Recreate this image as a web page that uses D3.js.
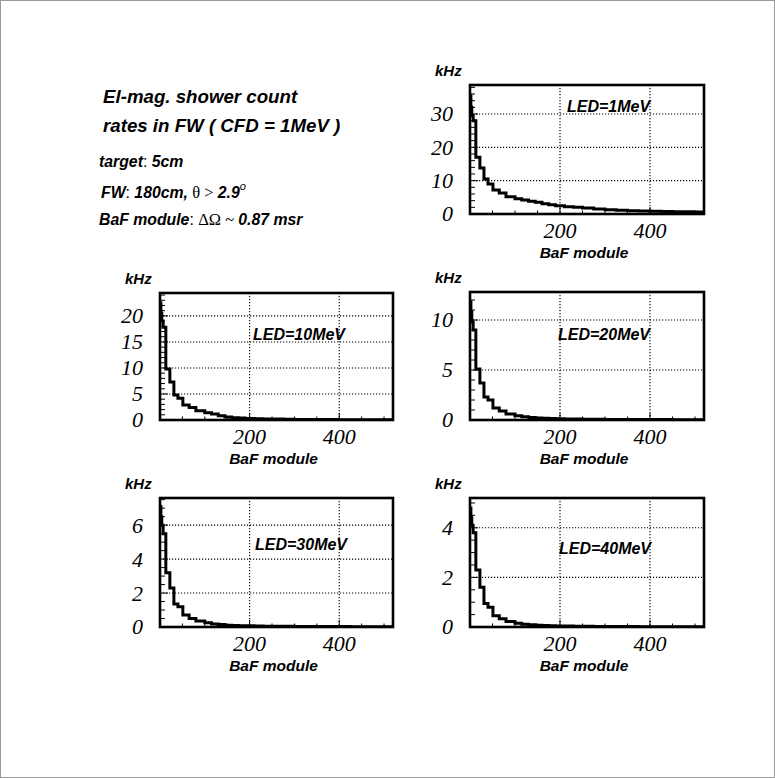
<!DOCTYPE html>
<html>
<head>
<meta charset="utf-8">
<script src="https://cdn.jsdelivr.net/npm/d3@7"></script>
<style>
  html, body { margin: 0; padding: 0; background: #fff; }
  svg { display: block; }
</style>
</head>
<body>
<svg id="chart" width="775" height="778"></svg>
<script>
// ---- data ----
const moduleEdges = [0,2,4,7,13,22,31,40,51,65,80,100,115,130,145,160,175,190,210,230,250,275,300,325,350,375,400,425,450,475,500,520];
const rates1MeV  = [35.5,32,29.5,28,17,13.8,10.5,9,7.2,6.3,5.2,4.6,4.2,3.8,3.5,3.1,2.8,2.5,2.2,2.0,1.8,1.5,1.3,1.15,1.0,0.9,0.8,0.75,0.7,0.65,0.6];
const rates10MeV = [22.5,20.5,19,17.8,9.8,7.3,4.8,4.2,2.9,2.4,1.8,1.4,1.15,0.8,0.6,0.45,0.38,0.3,0.25,0.2,0.17,0.14,0.12,0.1,0.09,0.08,0.07,0.06,0.06,0.05,0.05];
const rates20MeV = [11.8,10.8,9.8,9.0,5.1,3.7,2.3,2.0,1.2,0.9,0.6,0.42,0.32,0.25,0.2,0.17,0.14,0.12,0.1,0.09,0.08,0.07,0.06,0.05,0.05,0.04,0.04,0.04,0.03,0.03,0.03];
const rates30MeV = [7.1,6.5,6.0,5.5,3.2,2.3,1.35,1.2,0.7,0.5,0.35,0.25,0.18,0.14,0.11,0.09,0.08,0.07,0.06,0.05,0.045,0.04,0.035,0.03,0.03,0.025,0.025,0.02,0.02,0.02,0.02];
const rates40MeV = [4.8,4.4,4.1,3.8,2.3,1.6,0.95,0.8,0.45,0.33,0.22,0.15,0.11,0.09,0.07,0.06,0.05,0.045,0.04,0.035,0.03,0.025,0.02,0.02,0.02,0.015,0.015,0.015,0.01,0.01,0.01];
const ledLabels = ["LED=1MeV","LED=10MeV","LED=20MeV","LED=30MeV","LED=40MeV"];
const yMax = [38.7, 24.4, 12.8, 7.6, 5.2];
const yMajorTicks = [[0,10,20,30],[0,5,10,15,20],[0,5,10],[0,2,4,6],[0,2,4]];
const yMinorStep = [2, 1, 1, 0.5, 0.5];
const xMax = 520;
const xTickLabels = [200, 400];
const xTitle = "BaF module";
const yTitle = "kHz";

// ---- layout ----
const panels = [
  {x0:470, x1:704, y0:85,  y1:214, led:[567,112]},
  {x0:160, x1:393, y0:293, y1:420, led:[253,340]},
  {x0:470, x1:704, y0:292, y1:420, led:[558,340]},
  {x0:160, x1:393, y0:498, y1:627, led:[255,550]},
  {x0:470, x1:704, y0:498, y1:627, led:[559,554]}
];
const series = [rates1MeV, rates10MeV, rates20MeV, rates30MeV, rates40MeV];

const svg = d3.select("#chart");
svg.append("rect").attr("x",0.5).attr("y",0.5).attr("width",774).attr("height",777)
  .attr("fill","#fff").attr("stroke","#9a9a9a").attr("stroke-width",1);

const sans = "'Liberation Sans', Arial, Helvetica, sans-serif";
const serif = "'Liberation Serif', 'Times New Roman', serif";

panels.forEach((p, i) => {
  const x = d3.scaleLinear().domain([0, xMax]).range([p.x0, p.x1]);
  const y = d3.scaleLinear().domain([0, yMax[i]]).range([p.y1, p.y0]);
  const g = svg.append("g");
  const clipId = "clip" + i;
  svg.append("clipPath").attr("id", clipId).append("rect")
    .attr("x", p.x0).attr("y", p.y0).attr("width", p.x1 - p.x0).attr("height", p.y1 - p.y0);

  // grid
  g.selectAll(".gx").data(xTickLabels).join("line")
    .attr("x1", d => x(d)).attr("x2", d => x(d)).attr("y1", p.y0).attr("y2", p.y1)
    .attr("stroke","#000").attr("stroke-width",1.1).attr("stroke-dasharray","1.2,1.8");
  g.selectAll(".gy").data(yMajorTicks[i].filter(v => v > 0)).join("line")
    .attr("x1", p.x0).attr("x2", p.x1).attr("y1", d => y(d)).attr("y2", d => y(d))
    .attr("stroke","#000").attr("stroke-width",1.1).attr("stroke-dasharray","1.2,1.8");

  // minor ticks
  const yMinor = d3.range(0, yMax[i] + 1e-9, yMinorStep[i]);
  g.selectAll(".ty").data(yMinor).join("line")
    .attr("x1", p.x0).attr("x2", d => p.x0 + (yMajorTicks[i].includes(+d.toFixed(3)) ? 8 : 5))
    .attr("y1", d => y(d)).attr("y2", d => y(d))
    .attr("stroke","#000").attr("stroke-width",1);
  const xMinor = d3.range(0, xMax + 1e-9, 50);
  g.selectAll(".tx").data(xMinor).join("line")
    .attr("x1", d => x(d)).attr("x2", d => x(d))
    .attr("y1", p.y1).attr("y2", d => p.y1 - (d % 200 === 0 ? 7 : 3.5))
    .attr("stroke","#000").attr("stroke-width",1);

  // histogram
  const pts = series[i].map((v, k) => [moduleEdges[k], v]);
  pts.push([moduleEdges[moduleEdges.length - 1], series[i][series[i].length - 1]]);
  const line = d3.line().x(d => x(d[0])).y(d => y(d[1])).curve(d3.curveStepAfter);
  g.append("path").attr("d", line(pts)).attr("fill","none")
    .attr("stroke","#000").attr("stroke-width",3).attr("stroke-linejoin","miter")
    .attr("clip-path", `url(#${clipId})`);

  // frame
  g.append("rect").attr("x", p.x0).attr("y", p.y0)
    .attr("width", p.x1 - p.x0).attr("height", p.y1 - p.y0)
    .attr("fill","none").attr("stroke","#000").attr("stroke-width",2.6);

  // y tick labels
  g.selectAll(".ly").data(yMajorTicks[i]).join("text")
    .attr("x", p.x0 - 17).attr("y", d => y(d)).attr("dy","0.34em")
    .attr("text-anchor","end").attr("font-family", serif).attr("font-style","italic")
    .attr("font-size", 22).text(d => d);
  // x tick labels
  g.selectAll(".lx").data(xTickLabels).join("text")
    .attr("x", d => x(d)).attr("y", p.y1 + 24)
    .attr("text-anchor","middle").attr("font-family", serif).attr("font-style","italic")
    .attr("font-size", 22).text(d => d);
  // axis titles
  g.append("text").attr("x", (p.x0 + p.x1) / 2 - 3).attr("y", p.y1 + 44)
    .attr("text-anchor","middle").attr("font-family", sans).attr("font-weight","bold")
    .attr("font-style","italic").attr("font-size", 15.5).text(xTitle);
  g.append("text").attr("x", p.x0 - 35).attr("y", p.y0 - 9)
    .attr("font-family", sans).attr("font-weight","bold")
    .attr("font-style","italic").attr("font-size", 15).text(yTitle);
  // LED label
  g.append("text").attr("x", p.led[0]).attr("y", p.led[1])
    .attr("font-family", sans).attr("font-weight","bold")
    .attr("font-style","italic").attr("font-size", 16).text(ledLabels[i]);
});

// ---- text block ----
const tb = svg.append("g").attr("font-family", sans).attr("font-style","italic").attr("font-weight","bold");
tb.append("text").attr("x",103).attr("y",103).attr("font-size",18.7).text("El-mag. shower count");
tb.append("text").attr("x",103).attr("y",132).attr("font-size",18.7).text("rates in FW ( CFD = 1MeV )");

const t3 = tb.append("text").attr("x",99).attr("y",167).attr("font-size",15.8);
t3.append("tspan").text("target");
t3.append("tspan").attr("font-weight","normal").attr("font-style","normal").text(": ");
t3.append("tspan").text("5cm");

const t4 = tb.append("text").attr("x",101).attr("y",198).attr("font-size",15.8);
t4.append("tspan").text("FW");
t4.append("tspan").attr("font-weight","normal").attr("font-style","normal").text(": ");
t4.append("tspan").text("180cm, ");
t4.append("tspan").attr("font-family", serif).attr("font-weight","normal").attr("font-style","normal").attr("font-size",16.5).text("θ > ");
t4.append("tspan").text("2.9");
t4.append("tspan").attr("font-size",11).attr("font-weight","normal").attr("dy",-8).text("o");

const t5 = tb.append("text").attr("x",99).attr("y",225).attr("font-size",15.8);
t5.append("tspan").text("BaF module");
t5.append("tspan").attr("font-weight","normal").attr("font-style","normal").text(": ");
t5.append("tspan").attr("font-family", serif).attr("font-weight","normal").attr("font-style","normal").attr("font-size",16.5).text("ΔΩ ~ ");
t5.append("tspan").text("0.87 msr");
</script>
</body>
</html>
